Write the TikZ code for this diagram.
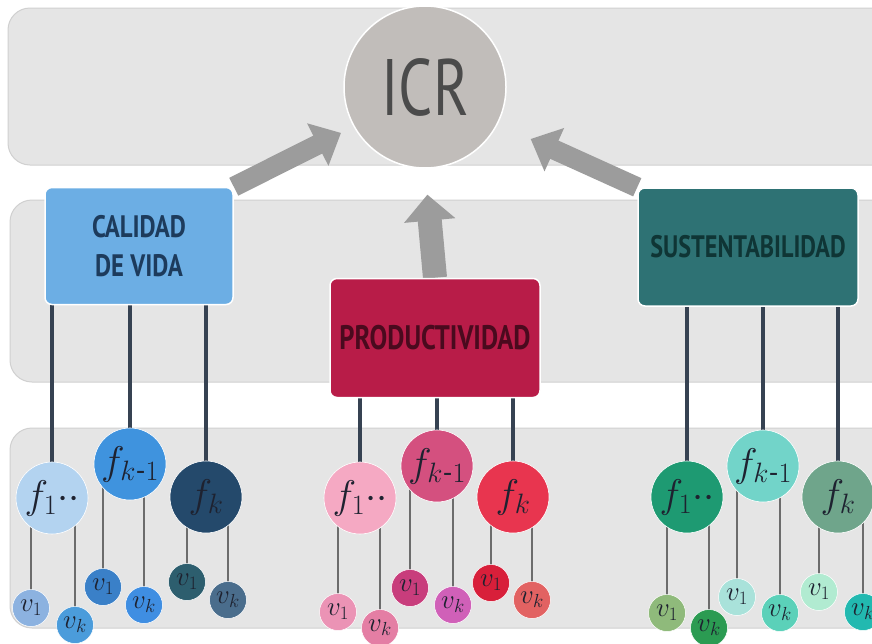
\RequirePackage{fix-cm}
\documentclass[tikz,border=0pt]{standalone}
\usepackage{amsmath}
\usepackage{fontspec}
\setmainfont{PT Sans}
\usetikzlibrary{arrows.meta}
\pgfdeclarelayer{back}
\pgfdeclarelayer{mid}
\pgfsetlayers{back,mid,main}

\definecolor{bandfill}{HTML}{E5E5E5}
\definecolor{bandedge}{HTML}{D0D0D0}
\definecolor{arrowgray}{HTML}{9C9C9C}
\definecolor{stemcol}{HTML}{364252}
\definecolor{twigcol}{HTML}{6C6C6C}
\definecolor{icrfill}{HTML}{C1BDBA}
\definecolor{icrtext}{HTML}{4B4B4B}
\definecolor{calfill}{HTML}{6CAEE4}
\definecolor{caltext}{HTML}{1D3B5C}
\definecolor{prodfill}{HTML}{B81C48}
\definecolor{prodtext}{HTML}{4A0A1E}
\definecolor{susfill}{HTML}{2E7274}
\definecolor{sustext}{HTML}{0F3535}
\definecolor{ftext}{HTML}{1E2230}
% factor fills
\definecolor{fa1c}{HTML}{B3D3F0}\definecolor{fa2c}{HTML}{3F93DE}\definecolor{fa3c}{HTML}{24496B}
\definecolor{fb1c}{HTML}{F5A9C3}\definecolor{fb2c}{HTML}{D4507F}\definecolor{fb3c}{HTML}{E8354F}
\definecolor{fc1c}{HTML}{1E9A72}\definecolor{fc2c}{HTML}{72D4C9}\definecolor{fc3c}{HTML}{6FA58B}
% variable fills
\definecolor{va11c}{HTML}{8CB2E0}\definecolor{va1kc}{HTML}{4B9CDB}
\definecolor{va21c}{HTML}{3A80C8}\definecolor{va2kc}{HTML}{3F8EE2}
\definecolor{va31c}{HTML}{2D5E6E}\definecolor{va3kc}{HTML}{4A6D8C}
\definecolor{vb11c}{HTML}{EB93B5}\definecolor{vb1kc}{HTML}{E47EA4}
\definecolor{vb21c}{HTML}{C83D7C}\definecolor{vb2kc}{HTML}{D060B8}
\definecolor{vb31c}{HTML}{D81F3A}\definecolor{vb3kc}{HTML}{E26262}
\definecolor{vc11c}{HTML}{8FBA7B}\definecolor{vc1kc}{HTML}{2B9B52}
\definecolor{vc21c}{HTML}{A9E2DA}\definecolor{vc2kc}{HTML}{5BD1B9}
\definecolor{vc31c}{HTML}{B1EBD1}\definecolor{vc3kc}{HTML}{22B9B0}

\newcommand{\condtxt}[2][0.72]{\scalebox{#1}[1]{#2}}

\begin{document}
\begin{tikzpicture}[x=1pt,y=-1pt,
  hub/.style={circle, minimum size=162pt, inner sep=0pt, fill=icrfill,
    draw=white, line width=1.5pt, text=icrtext,
    font=\fontsize{80}{80}\selectfont},
  dimbox/.style={rectangle, rounded corners=7pt, inner sep=0pt,
    draw=white, line width=1.5pt, align=center,
    font=\fontsize{31}{39}\selectfont\bfseries},
  fnode/.style={circle, minimum size=72pt, inner sep=0pt, fill=#1,
    draw=white, line width=0.6pt, text=ftext,
    font=\fontsize{40}{42}\selectfont},
  vnode/.style={circle, minimum size=37pt, inner sep=0pt, fill=#1,
    draw=white, line width=0.5pt, text=ftext,
    font=\fontsize{27}{28}\selectfont},
  band/.style={fill=bandfill, draw=bandedge, line width=1pt, rounded corners=22pt},
  bigarrow/.style={draw=arrowgray, line width=#1},
  stem/.style={draw=stemcol, line width=3.5pt},
  twig/.style={draw=twigcol, line width=2pt}]

\useasboundingbox (0,0) rectangle (872,643);

% central index
\node[hub] (icr) at (425,87) {\condtxt[0.75]{ICR}};

% the three dimensions
\node[dimbox, fill=calfill, text=caltext, minimum width=188pt, minimum height=117pt]
  (cal) at (139,246) {\condtxt[0.8]{CALIDAD}\\\condtxt[0.8]{DE VIDA}};
\node[dimbox, fill=prodfill, text=prodtext, minimum width=210pt, minimum height=119pt,
  font=\fontsize{34}{40}\selectfont\bfseries]
  (prod) at (435,338) {\condtxt[0.78]{PRODUCTIVIDAD}};
\node[dimbox, fill=susfill, text=sustext, minimum width=220pt, minimum height=118pt]
  (sus) at (748,247) {\condtxt[0.78]{SUSTENTABILIDAD}};

% factors, calidad de vida
\node[fnode=fa1c] (fa1) at (52,498) {$f_1{\cdot}{\cdot}$};
\node[fnode=fa2c] (fa2) at (130,464) {$f_{k\text{-}1}$};
\node[fnode=fa3c] (fa3) at (206,497) {$f_{k}$};
% factors, productividad
\node[fnode=fb1c] (fb1) at (360,498) {$f_1{\cdot}{\cdot}$};
\node[fnode=fb2c] (fb2) at (437,466) {$f_{k\text{-}1}$};
\node[fnode=fb3c] (fb3) at (513,497) {$f_{k}$};
% factors, sustentabilidad
\node[fnode=fc1c] (fc1) at (687,497) {$f_1{\cdot}{\cdot}$};
\node[fnode=fc2c] (fc2) at (763,466) {$f_{k\text{-}1}$};
\node[fnode=fc3c] (fc3) at (838,497) {$f_{k}$};

% variables, calidad de vida
\node[vnode=va11c] (va11) at (31,608) {$v_1$};
\node[vnode=va1kc] (va1k) at (75,625) {$v_k$};
\node[vnode=va21c] (va21) at (103,587) {$v_1$};
\node[vnode=va2kc] (va2k) at (144,605) {$v_k$};
\node[vnode=va31c] (va31) at (187,582) {$v_1$};
\node[vnode=va3kc] (va3k) at (228,600) {$v_k$};
% variables, productividad
\node[vnode=vb11c] (vb11) at (338,612) {$v_1$};
\node[vnode=vb1kc] (vb1k) at (380,628) {$v_k$};
\node[vnode=vb21c] (vb21) at (410,588) {$v_1$};
\node[vnode=vb2kc] (vb2k) at (453,605) {$v_k$};
\node[vnode=vb31c] (vb31) at (491,583) {$v_1$};
\node[vnode=vb3kc] (vb3k) at (532,600) {$v_k$};
% variables, sustentabilidad
\node[vnode=vc11c] (vc11) at (667,613) {$v_1$};
\node[vnode=vc1kc] (vc1k) at (709,628) {$v_k$};
\node[vnode=vc21c] (vc21) at (737,597) {$v_1$};
\node[vnode=vc2kc] (vc2k) at (780,613) {$v_k$};
\node[vnode=vc31c] (vc31) at (819,592) {$v_1$};
\node[vnode=vc3kc] (vc3k) at (863,612) {$v_k$};

\begin{pgfonlayer}{back}
  \fill[white] (0,0) rectangle (872,643);
  \path[band] (8,8) rectangle (900,165);
  \path[band] (10,200) rectangle (900,382);
  \path[band] (10,428) rectangle (900,628);
\end{pgfonlayer}

\begin{pgfonlayer}{mid}
  % block arrows into the index
  \draw[bigarrow=20pt, -{Triangle[width=46pt,length=26pt]}, shorten >=14pt]
    (cal.north east) -- (icr.209);
  \draw[bigarrow=24pt, -{Triangle[width=50pt,length=26pt]}, shorten >=26pt]
    (prod.north) -- (icr.south);
  \draw[bigarrow=20pt, -{Triangle[width=46pt,length=26pt]}, shorten >=36pt]
    (sus.north west) -- (icr.333);

  % stems from dimensions to factors
  \foreach \f/\d in {fa1/cal, fa2/cal, fa3/cal, fb1/prod, fb2/prod, fb3/prod,
                     fc1/sus, fc2/sus, fc3/sus}
    \draw[stem] (\f.center) -- (\f.center |- \d.south);

  % twigs from factors to variables
  \foreach \v/\f in {va11/fa1, va1k/fa1, va21/fa2, va2k/fa2, va31/fa3, va3k/fa3,
                     vb11/fb1, vb1k/fb1, vb21/fb2, vb2k/fb2, vb31/fb3, vb3k/fb3,
                     vc11/fc1, vc1k/fc1, vc21/fc2, vc2k/fc2, vc31/fc3, vc3k/fc3}
    \draw[twig] (\v.center) -- (\v.center |- \f.center);
\end{pgfonlayer}
\end{tikzpicture}
\end{document}
